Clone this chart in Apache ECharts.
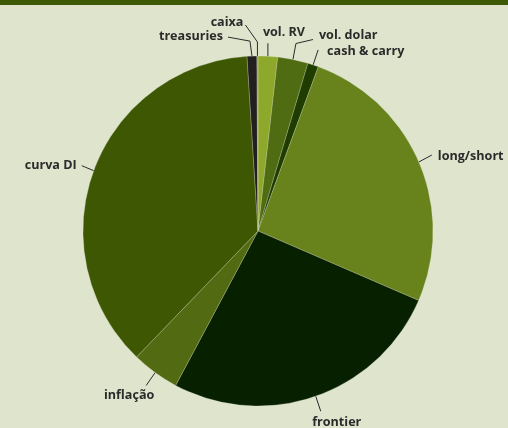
<!DOCTYPE html>
<html><head><meta charset="utf-8">
<script src="https://cdn.jsdelivr.net/npm/echarts@6/dist/echarts.min.js"></script>
<style>html,body{margin:0;padding:0;background:#dfe4cd;}#c{width:508px;height:428px;}</style>
</head><body><div id="c"></div>
<script>
const categories = ['vol. RV','vol. dolar','cash & carry','long/short','frontier','inflação','curva DI','treasuries','caixa'];
const values = [1.8, 2.8, 1.0, 25.9, 26.3, 4.4, 36.8, 0.9, 0.1];
const colors = ['#8ea82b','#4f6c12','#1f3d00','#68831c','#072100','#526b12','#3e5703','#231f20','#8ea82b'];
// leader-line shape per label (relative offsets from the slice edge): elbow, end, label offset, align
const leaders = [
  {elbow:null,   end:[0,-13],   lab:[-5,-11], align:'left'},
  {elbow:[3,-16],end:[20,-20],  lab:[6,-4],   align:'left'},
  {elbow:null,   end:[5,-15],   lab:[9,1],    align:'left'},
  {elbow:null,   end:[13,-7],   lab:[6,1],    align:'left'},
  {elbow:null,   end:[5,15],    lab:[16,11],  align:'center'},
  {elbow:null,   end:[-9,13],   lab:[-17,10], align:'center'},
  {elbow:null,   end:[-12,-5],  lab:[-5,0],   align:'right'},
  {elbow:[-2,-15],end:[-24,-19],lab:[-5,-1],  align:'right'},
  {elbow:[0,-14],end:[-12,-31], lab:[-2,-3],  align:'right'}
];
const chart = echarts.init(document.getElementById('c'));
chart.setOption({
  backgroundColor:'#dfe4cd',
  animation:false,
  graphic:[{type:'rect',shape:{x:0,y:0,width:508,height:5},style:{fill:'#3f5a05'}}],
  series:[{
    type:'pie',
    center:[258,231],
    radius:175,
    startAngle:90,
    clockwise:true,
    avoidLabelOverlap:false,
    data: categories.map((n,i)=>({name:n,value:values[i],itemStyle:{color:colors[i]}})),
    itemStyle:{borderColor:'rgba(223,228,205,0.5)',borderWidth:0.5},
    label:{show:true,formatter:'{b}',color:'#2b2b2b',fontFamily:'Open Sans',fontWeight:'bold',fontSize:12.6,overflow:'none'},
    labelLine:{show:true,length:12,length2:8,lineStyle:{color:'#2b2b2b',width:1}},
    labelLayout:function(p){
      const L = leaders[p.dataIndex];
      const a = p.labelLinePoints[0];
      const pts = [[a[0],a[1]]];
      if (L.elbow) pts.push([a[0]+L.elbow[0], a[1]+L.elbow[1]]);
      const e = [a[0]+L.end[0], a[1]+L.end[1]];
      pts.push(e);
      return {x:e[0]+L.lab[0], y:e[1]+L.lab[1], align:L.align, verticalAlign:'middle', labelLinePoints:pts};
    }
  }]
});
</script></body></html>
